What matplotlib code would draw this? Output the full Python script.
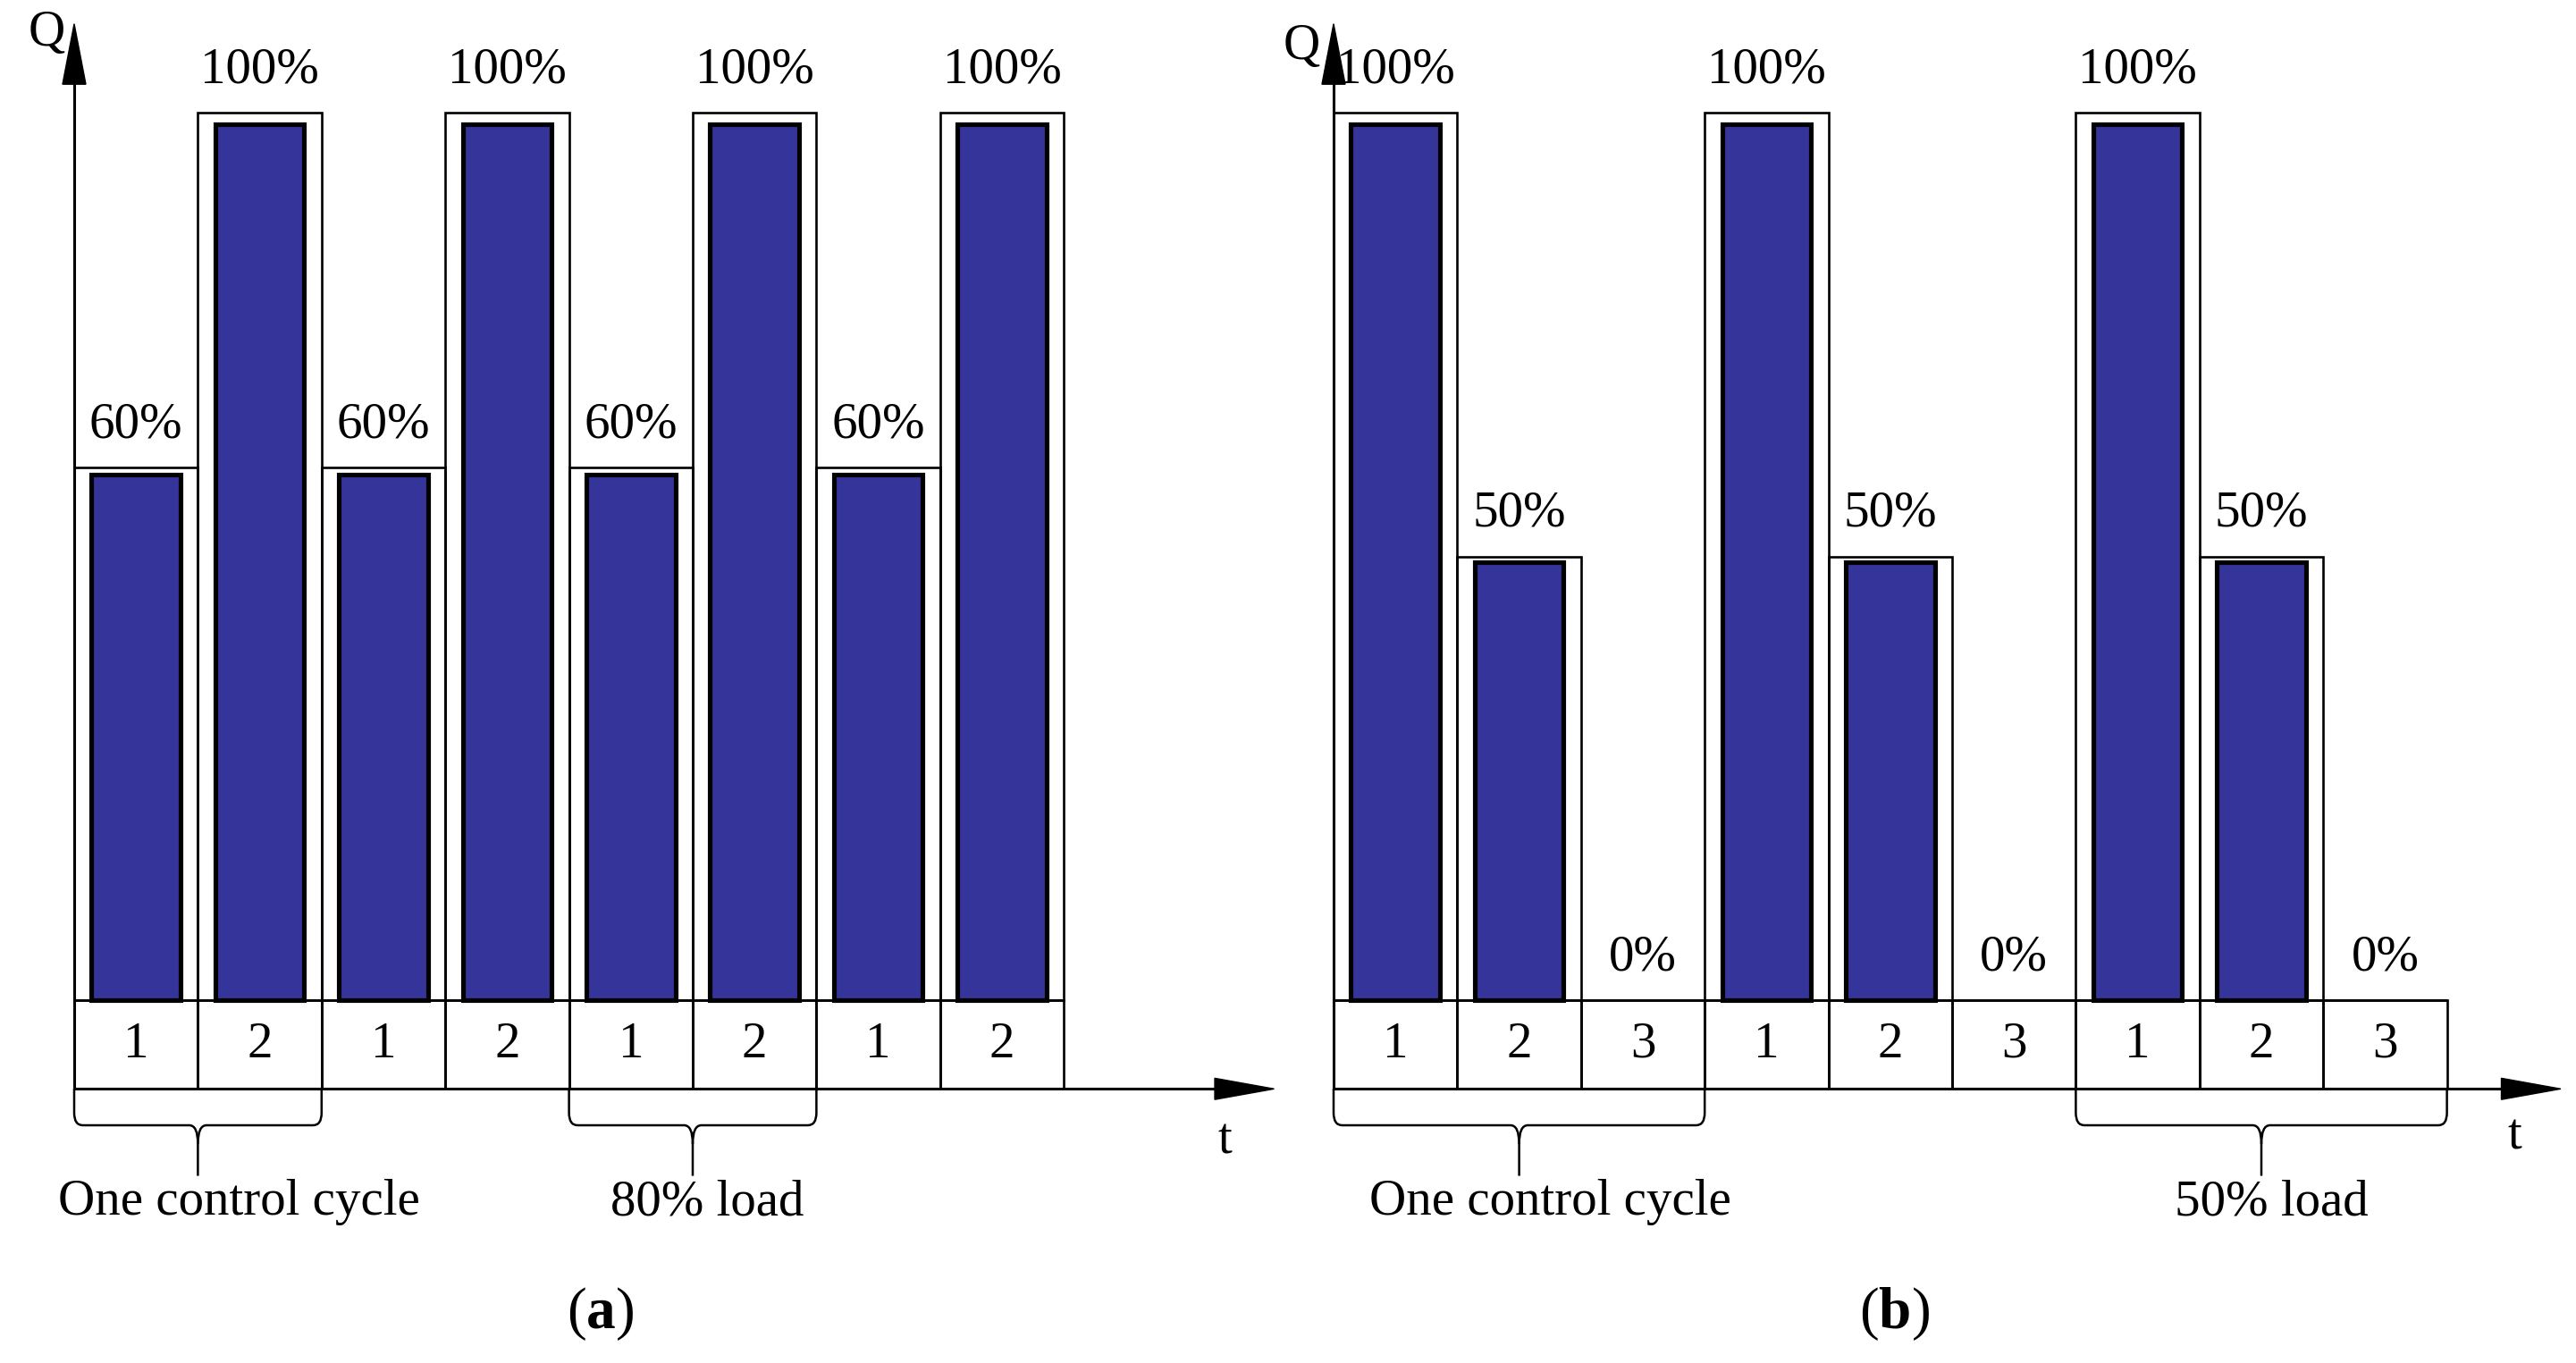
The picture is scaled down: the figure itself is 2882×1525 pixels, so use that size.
"""
Pulse-load diagrams for two load levels.

Draws the per-slot power level Q of each control slot, the slot numbers
under the time axis and the braces that mark one control cycle and the
resulting mean load: (a) 80% load, (b) 50% load.
"""

import matplotlib
matplotlib.use("Agg")
import matplotlib.pyplot as plt
from matplotlib.patches import PathPatch, Polygon
from matplotlib.path import Path

# Panel (a): two-slot cycle, 60% / 100%
loads_a = [60, 100, 60, 100, 60, 100, 60, 100]
slots_a = [1, 2, 1, 2, 1, 2, 1, 2]
braces_a = [(0, 2, "One control cycle", 1.33), (4, 6, "80% load", 5.12)]

# Panel (b): three-slot cycle, 100% / 50% / 0%
loads_b = [100, 50, 0, 100, 50, 0, 100, 50, 0]
slots_b = [1, 2, 3, 1, 2, 3, 1, 2, 3]
braces_b = [(0, 3, "One control cycle", 1.755), (6, 9, "50% load", 7.58)]

BAR_COLOR = "#35349a"
FONT = "Liberation Serif"
FS = 41

plt.rcParams["font.family"] = [FONT, "DejaVu Serif"]
plt.rcParams["mathtext.fontset"] = "custom"
plt.rcParams["mathtext.rm"] = FONT
plt.rcParams["mathtext.bf"] = f"{FONT}:bold"

W_PX, H_PX = 2882, 1525
SLOT_PX = 138.4      # one slot in pixels
UNIT_PX = 993.0      # 100% load in pixels
BASE_PX = 406.0      # baseline height above the figure bottom
ROW = 0.1            # height of the slot-number row


def _brace(ax, x0, x1, ytop=-ROW, yh=-0.141, ytip=-0.198):
    """Curly brace hanging under the time axis from x0 to x1."""
    xm = (x0 + x1) / 2
    rx, ry = 0.07, 0.014
    left = Path(
        [(x0, ytop), (x0, yh + ry), (x0, yh), (x0 + rx, yh), (xm - rx, yh),
         (xm, yh), (xm, yh - ry * 1.5), (xm, ytip)],
        [Path.MOVETO, Path.LINETO, Path.CURVE3, Path.CURVE3, Path.LINETO,
         Path.CURVE3, Path.CURVE3, Path.LINETO],
    )
    right = Path(
        [(xm, yh - ry * 1.5), (xm, yh), (xm + rx, yh), (x1 - rx, yh),
         (x1, yh), (x1, yh + ry), (x1, ytop)],
        [Path.MOVETO, Path.CURVE3, Path.CURVE3, Path.LINETO,
         Path.CURVE3, Path.CURVE3, Path.LINETO],
    )
    for p in (left, right):
        ax.add_patch(PathPatch(p, fill=False, lw=1.8, color="black"))


def _panel(ax, loads, slots, braces, t_tip, t_label, q_label, tag, tag_x):
    n = len(loads)
    x = [i + 0.5 for i in range(n)]
    frac = [v / 100 for v in loads]

    # outer frames (target level) and slot-number row
    ax.bar(x, frac, width=1.0, fill=False, edgecolor="black", lw=1.9, zorder=2)
    ax.bar(x, [ROW] * n, bottom=-ROW, width=1.0, fill=False,
           edgecolor="black", lw=1.9, zorder=2)

    # filled bars (skip zero slots)
    xs = [xi for xi, f in zip(x, frac) if f > 0]
    hs = [f * 0.987 for f in frac if f > 0]
    ax.bar(xs, hs, width=0.72, color=BAR_COLOR, edgecolor="black",
           lw=3.7, zorder=3)

    for xi, v, f, s in zip(x, loads, frac, slots):
        ax.text(xi, f + 0.022, f"{v}%", ha="center", va="bottom", fontsize=FS)
        ax.text(xi, -ROW / 2, str(s), ha="center", va="center", fontsize=FS)

    # Q axis with arrow head
    ax.plot([0, 0], [-ROW, 1.04], color="black", lw=2.2, zorder=4)
    ax.add_patch(Polygon([(-0.094, 1.032), (0.094, 1.032), (0, 1.10)],
                         closed=True, color="black", zorder=4))
    ax.text(q_label[0], q_label[1], "Q", ha="center", va="center", fontsize=FS)

    # t axis with arrow head
    ax.plot([0, t_tip - 0.4], [-ROW, -ROW], color="black", lw=2.2, zorder=4)
    ax.add_patch(Polygon([(t_tip - 0.48, -ROW + 0.012), (t_tip - 0.48, -ROW - 0.012),
                          (t_tip, -ROW)], closed=True, color="black", zorder=4))
    ax.text(t_label[0], t_label[1], "t", ha="center", va="center", fontsize=FS)

    for x0, x1, label, lx in braces:
        _brace(ax, x0, x1)
        ax.text(lx, -0.228, label, ha="center", va="center", fontsize=FS)

    ax.text(tag_x, -0.353, tag, ha="center", va="center", fontsize=47)


def main():
    fig = plt.figure(figsize=(W_PX / 100, H_PX / 100), dpi=100)
    half = W_PX / 2

    ylim = (-BASE_PX / UNIT_PX, (H_PX - BASE_PX) / UNIT_PX)
    span = half / SLOT_PX

    ax_a = fig.add_axes([0, 0, 0.5, 1])
    x0a = -83 / SLOT_PX
    ax_a.set_xlim(x0a, x0a + span)
    ax_a.set_ylim(*ylim)

    ax_b = fig.add_axes([0.5, 0, 0.5, 1])
    x0b = -(1492 - half) / SLOT_PX
    ax_b.set_xlim(x0b, x0b + span)
    ax_b.set_ylim(*ylim)

    _panel(ax_a, loads_a, slots_a, braces_a, t_tip=9.70,
           t_label=(9.30, -0.159), q_label=(-0.22, 1.09),
           tag=r"$(\mathbf{a})$", tag_x=4.25)
    _panel(ax_b, loads_b, slots_b, braces_b, t_tip=9.92,
           t_label=(9.55, -0.154), q_label=(-0.26, 1.075),
           tag=r"$(\mathbf{b})$", tag_x=4.53)

    for ax in (ax_a, ax_b):
        ax.axis("off")
        ax.patch.set_alpha(0)

    fig.savefig("out.png", dpi=100, facecolor="white")
    plt.close(fig)


if __name__ == "__main__":
    main()
